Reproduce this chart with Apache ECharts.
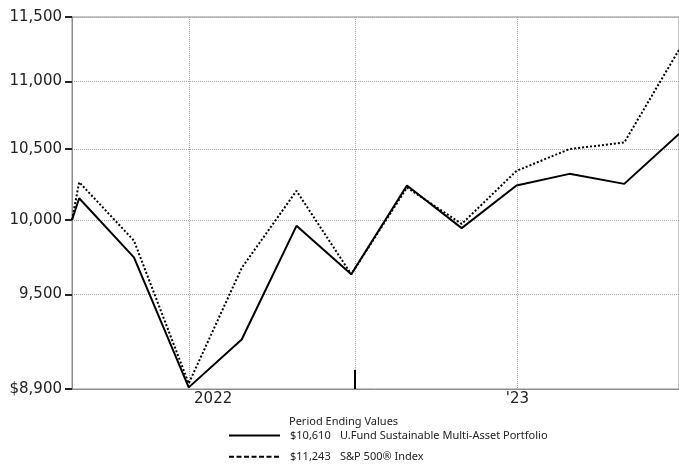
<!DOCTYPE html>
<html><head><meta charset="utf-8">
<script src="https://cdn.jsdelivr.net/npm/echarts@6/dist/echarts.min.js"></script>
<style>html,body{margin:0;padding:0;background:#fff}#c{width:679px;height:466px}</style>
</head><body><div id="c"></div>
<script>
const dates = ['2021-08-23','2021-08-31','2021-10-31','2021-12-31','2022-02-28','2022-04-30','2022-06-30','2022-08-31','2022-10-31','2022-12-31','2023-02-28','2023-04-30','2023-06-30'];
const fundName = 'U.Fund Sustainable Multi-Asset Portfolio';
const indexName = 'S&P 500® Index';
const fundValues = [10000,10150,9745,8910,9209,9959,9632,10240,9943,10240,10322,10251,10610];
const indexValues = [10000,10263,9858,8934,9674,10202,9632,10225,9972,10343,10500,10547,11243];
const yTicks = [8900,9500,10000,10500,11000,11500];
const xGridDates = ['2022-01-01','2022-07-04','2023-01-01'];
const xLabelDates = ['2022-01-01','2023-01-01'];
const xLabelTexts = ['2022', "'23"];
const xMarkDates = ['2022-07-04'];
const legendTitle = 'Period Ending Values';

const toT = d => Date.parse(d + 'T00:00:00Z');
const AX = '#8c8c8c';
const GRID = '#a8a8a8';
const TXT = '#222';
const chart = echarts.init(document.getElementById('c'), null, {renderer:'canvas', width:679, height:466});
const fmtNum = v => { const r = Math.round(v); const s = r.toLocaleString('en-US'); return r === yTicks[0] ? '$' + s : s; };
const endValue = name => name === fundName ? fundValues[fundValues.length-1] : indexValues[indexValues.length-1];
const xFmt = v => {
  const i = xLabelDates.findIndex(d => Math.abs(toT(d) - v) < 1000);
  if (i < 0) return '';
  return i === 0 ? '{a|' + xLabelTexts[i] + '}' : xLabelTexts[i];
};
const font = 'DejaVu Sans';
const lfont = 'Noto Sans';
const xMin = toT(dates[0]), xMax = toT(dates[dates.length-1]);
const hiddenSymbol = {color: 'rgba(0,0,0,0)', borderColor: 'rgba(0,0,0,0)', borderWidth: 0, opacity: 0};
const option = {
  animation: false,
  title: { text: legendTitle, left: 289, top: 415, padding: 0,
    textStyle: {fontFamily: lfont, fontSize: 11, fontWeight: 'normal', color: TXT, lineHeight: 14}},
  legend: {
    orient: 'vertical', left: 228, top: 430, itemWidth: 51, itemHeight: 14, itemGap: 10, padding: 0,
    selectedMode: false,
    data: [
      {name: fundName, itemStyle: hiddenSymbol, lineStyle: {type: 'solid', width: 2, color: '#000'}},
      {name: indexName, itemStyle: hiddenSymbol, lineStyle: {type: [5, 2.5], width: 2, color: '#000'}}
    ],
    formatter: name => '{s| }{v|$' + endValue(name).toLocaleString('en-US') + '}{n|' + name + '}',
    textStyle: {fontFamily: lfont, fontSize: 11, color: TXT,
      rich: {
        s: {width: 5, fontFamily: lfont, fontSize: 11},
        v: {width: 50, fontFamily: lfont, fontSize: 11, color: TXT},
        n: {fontFamily: lfont, fontSize: 11, color: TXT}
      }}
  },
  grid: {left: 72, right: -1, top: 17, bottom: 77, show: true, borderColor: AX, borderWidth: 1},
  xAxis: [
    {
      type: 'value', min: xMin, max: xMax,
      axisLine: {show: true, lineStyle: {color: AX, width: 1}},
      axisTick: {show: false, customValues: xGridDates.map(toT)},
      axisLabel: {customValues: xLabelDates.map(toT), formatter: xFmt, margin: 3, fontFamily: font, fontSize: 15, color: TXT,
        rich: {a: {padding: [0, 0, 0, 47], fontFamily: font, fontSize: 15, color: TXT}}},
      splitLine: {show: true, lineStyle: {color: GRID, type: [1, 1], width: 1}}
    },
    {
      type: 'value', position: 'bottom', min: xMin, max: xMax,
      axisLine: {show: false},
      axisTick: {show: true, inside: true, length: 19, customValues: xMarkDates.map(toT), lineStyle: {color: '#000', width: 2}},
      axisLabel: {show: false},
      splitLine: {show: false}
    }
  ],
  yAxis: {
    type: 'log', min: yTicks[0], max: yTicks[yTicks.length-1],
    axisLine: {show: true, lineStyle: {color: AX, width: 1}},
    axisTick: {show: true, customValues: yTicks, length: 7, lineStyle: {color: TXT, width: 2}},
    axisLabel: {customValues: yTicks, formatter: fmtNum, margin: 10, fontFamily: font, fontSize: 15, color: TXT},
    splitLine: {show: true, lineStyle: {color: GRID, type: [1, 1], width: 1}}
  },
  series: [
    {name: indexName, type: 'line', xAxisIndex: 0, symbol: 'none', data: dates.map((d, i) => [toT(d), indexValues[i]]),
     lineStyle: {color: '#000', width: 2, type: [2, 2]}, itemStyle: {color: '#000'}},
    {name: fundName, type: 'line', xAxisIndex: 0, symbol: 'none', data: dates.map((d, i) => [toT(d), fundValues[i]]),
     lineStyle: {color: '#000', width: 2, type: 'solid'}, itemStyle: {color: '#000'}}
  ]
};
chart.setOption(option);
</script></body></html>
